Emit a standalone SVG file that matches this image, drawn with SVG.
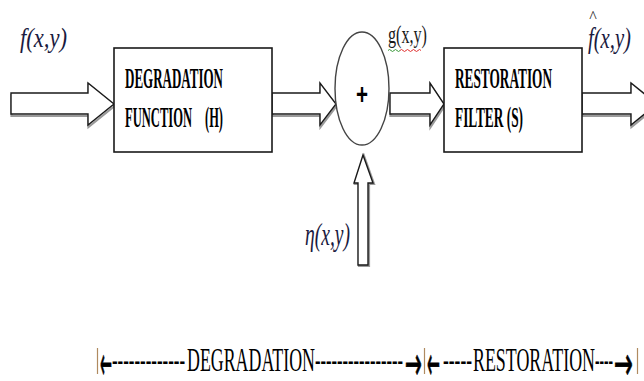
<svg xmlns="http://www.w3.org/2000/svg" width="644" height="381" viewBox="0 0 644 381">
<defs>
<style>
.box{fill:#fff;stroke:#1a1a1a;stroke-width:1.6}
.sum{fill:#fff;stroke:#444;stroke-width:1.4}
.arr{fill:#fff;stroke:#1a1a1a;stroke-width:1.4;stroke-linejoin:miter}
.shadow{fill:none;stroke:#9a9a9a;stroke-width:2.2}
.bt{font-family:"Liberation Serif","Times New Roman","DejaVu Serif",serif;font-weight:bold;font-size:30px;fill:#000}
.math{font-family:"Liberation Serif","Times New Roman","DejaVu Serif",serif;font-style:italic;fill:#1a1a40}
.reg{font-family:"Liberation Serif","Times New Roman","DejaVu Serif",serif;fill:#1a1a1a}
.bot{font-family:"Liberation Serif","Times New Roman","DejaVu Serif",serif;font-size:33px;fill:#000}
.ar{font-family:"DejaVu Sans",sans-serif;font-size:46px;fill:#000;stroke:#000;stroke-width:0.8}
.bar{stroke:#b08a60;stroke-width:1.2}
</style>
</defs>
<rect width="644" height="381" fill="#fff"/>

<g id="connectors">
  <g id="arrow-input">
    <polygon class="shadow" transform="translate(0.5,2)" points="11,93 88,93 88,83 114,104 88,125 88,114 11,114"/>
    <polygon class="arr" points="11,93 88,93 88,83 114,104 88,125 88,114 11,114"/>
  </g>
  <g id="arrow-h-to-sum">
    <polygon class="shadow" transform="translate(0.5,2)" points="272,93 320,93 320,83 336,104 320,125 320,114 272,114"/>
    <polygon class="arr" points="272,93 320,93 320,83 336,104 320,125 320,114 272,114"/>
  </g>
  <g id="arrow-sum-to-s">
    <polygon class="shadow" transform="translate(0.5,2)" points="390,93 430,93 430,83 444,104 430,125 430,114 390,114"/>
    <polygon class="arr" points="390,93 430,93 430,83 444,104 430,125 430,114 390,114"/>
  </g>
  <g id="arrow-output">
    <polygon class="shadow" transform="translate(0.5,2)" points="582,93 631,93 631,83 657,104 631,125 631,114 582,114"/>
    <polygon class="arr" points="582,93 631,93 631,83 657,104 631,125 631,114 582,114"/>
  </g>
  <g id="arrow-noise">
    <polygon class="shadow" transform="translate(1,1)" points="358,265 358,183 354,183 363,155 373,183 368,183 368,265"/>
    <polygon class="arr" points="358,265 358,183 354,183 363,155 373,183 368,183 368,265"/>
  </g>
</g>

<g id="node-degradation">
  <rect class="box" x="114" y="48" width="158" height="104"/>
  <text class="bt" x="125" y="88" textLength="98" lengthAdjust="spacingAndGlyphs">DEGRADATION</text>
  <text class="bt" y="127"><tspan x="125" textLength="67" lengthAdjust="spacingAndGlyphs">FUNCTION</tspan><tspan x="205" textLength="18" lengthAdjust="spacingAndGlyphs">(H)</tspan></text>
</g>

<g id="node-sum">
  <ellipse class="sum" cx="362" cy="88.5" rx="27" ry="56.5"/>
  <text x="362" y="104" text-anchor="middle" font-family="Liberation Sans, Arial, sans-serif" font-weight="bold" font-size="30" fill="#000" textLength="12" lengthAdjust="spacingAndGlyphs">+</text>
</g>

<g id="node-restoration">
  <rect class="box" x="444" y="48" width="138" height="104"/>
  <text class="bt" x="455" y="88" textLength="97" lengthAdjust="spacingAndGlyphs">RESTORATION</text>
  <text class="bt" x="455" y="127" textLength="68" lengthAdjust="spacingAndGlyphs">FILTER (S)</text>
</g>

<g id="labels">
  <text class="math" x="20" y="47" font-size="28" textLength="47" lengthAdjust="spacingAndGlyphs">f(x,y)</text>
  <text class="math" x="305" y="245" font-size="32" textLength="45" lengthAdjust="spacingAndGlyphs">η(x,y)</text>
  <text class="reg" x="388" y="43" font-size="26" textLength="39" lengthAdjust="spacingAndGlyphs">g(x,y)</text>
  <path d="M388,50.5 q1.5,-2 3,0 t3,0 t3,0 t3,0" fill="none" stroke="#3a9a3a" stroke-width="1"/>
  <path d="M400,50.5 q1.5,-2 3,0 t3,0 t3,0 t3,0 t3,0 t3,0 t3,0" fill="none" stroke="#e03030" stroke-width="1"/>
  <text class="math" x="588" y="48" font-size="30" textLength="43" lengthAdjust="spacingAndGlyphs">f(x,y)</text>
  <text class="reg" x="593" y="22" font-size="16" text-anchor="middle">^</text>
</g>

<g id="legend">
  <line class="bar" x1="97.5" y1="348" x2="97.5" y2="374"/>
  <text class="ar" transform="translate(100,360)" x="0" y="19" textLength="12" lengthAdjust="spacingAndGlyphs">←</text>
  <text class="bot" x="112" y="371" textLength="73" lengthAdjust="spacingAndGlyphs">-------------</text>
  <text class="bot" x="187" y="371" textLength="128" lengthAdjust="spacingAndGlyphs">DEGRADATION</text>
  <text class="bot" x="315" y="371" textLength="88" lengthAdjust="spacingAndGlyphs">----------------</text>
  <text class="ar" transform="translate(405,360)" x="0" y="19" textLength="17" lengthAdjust="spacingAndGlyphs">→</text>
  <line class="bar" x1="424.5" y1="348" x2="424.5" y2="374"/>
  <text class="ar" transform="translate(427,360)" x="0" y="19" textLength="13" lengthAdjust="spacingAndGlyphs">←</text>
  <text class="bot" x="443" y="371" textLength="29" lengthAdjust="spacingAndGlyphs">-----</text>
  <text class="bot" x="473" y="371" textLength="122" lengthAdjust="spacingAndGlyphs">RESTORATION</text>
  <text class="bot" x="595" y="371" textLength="18" lengthAdjust="spacingAndGlyphs">----</text>
  <text class="ar" transform="translate(614,360)" x="0" y="19" textLength="19" lengthAdjust="spacingAndGlyphs">→</text>
  <line class="bar" x1="637.5" y1="348" x2="637.5" y2="374"/>
</g>
</svg>
